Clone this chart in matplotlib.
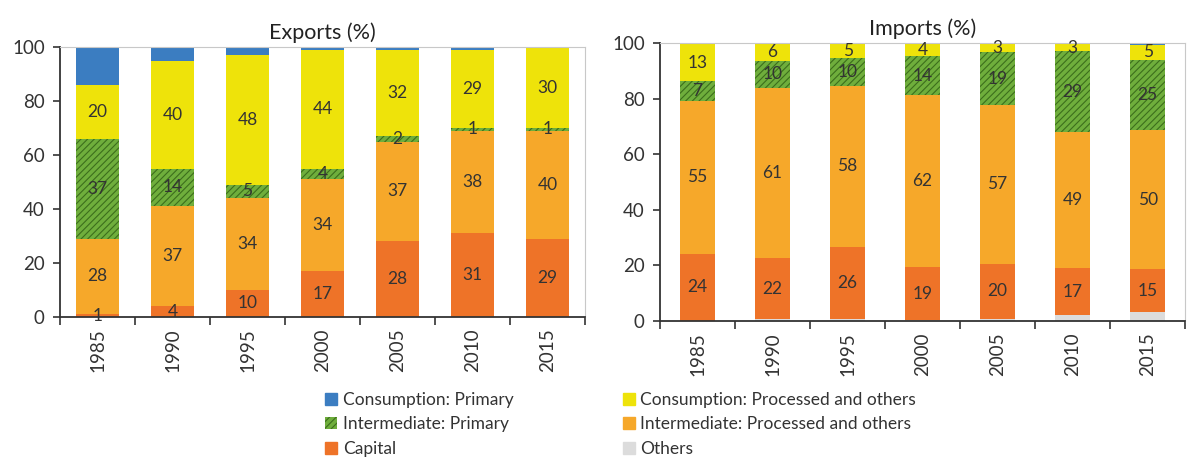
import matplotlib
matplotlib.use("Agg")
import matplotlib.pyplot as plt
from matplotlib.patches import Patch
import numpy as np

plt.rcParams['font.family'] = ['Lato', 'DejaVu Sans']
plt.rcParams['hatch.linewidth'] = 0.8

years = ["1985", "1990", "1995", "2000", "2005", "2010", "2015"]

# exports (%), bottom to top
exp_capital = [1, 4, 10, 17, 28, 31, 29]
exp_int_proc = [28, 37, 34, 34, 37, 38, 40]
exp_int_prim = [37, 14, 5, 4, 2, 1, 1]
exp_cons_proc = [20, 40, 48, 44, 32, 29, 29.6]
exp_cons_prim = [14, 5, 3, 1, 1, 1, 0.4]

# imports (%), bottom to top
imp_others = [0.2, 0.7, 0.6, 0.3, 0.7, 2, 3.2]
imp_capital = [24, 22, 26, 19, 20, 17, 15.4]
imp_int_proc = [55, 61, 58, 62, 57, 49, 50]
imp_int_prim = [7, 10, 10, 14, 19, 29, 25.4]
imp_cons_proc = [13.4, 6, 5, 4.4, 3, 2.7, 5.4]
imp_cons_prim = [0.4, 0.3, 0.4, 0.3, 0.3, 0.3, 0.6]

C_CONS_PRIM = "#3b7dc1"
C_CONS_PROC = "#eee30a"
C_INT_PRIM = "#6fae3c"
C_INT_PRIM_H = "#3c6e1c"
C_INT_PROC = "#f6a82a"
C_CAPITAL = "#ee7328"
C_OTHERS = "#dcdcdc"

styles = {
    "Consumption: Primary": dict(color=C_CONS_PRIM),
    "Consumption: Processed and others": dict(color=C_CONS_PROC),
    "Intermediate: Primary": dict(facecolor=C_INT_PRIM, edgecolor=C_INT_PRIM_H, hatch="/////", linewidth=0),
    "Intermediate: Processed and others": dict(color=C_INT_PROC),
    "Capital": dict(color=C_CAPITAL),
    "Others": dict(color=C_OTHERS),
}


def draw_panel(ax, title, series, width):
    x = np.arange(len(years))
    bottom = np.zeros(len(years))
    for name, vals, labelled in series:
        vals = np.array(vals, dtype=float)
        ax.bar(x, vals, width, bottom=bottom, **styles[name])
        if labelled:
            for xi, b, v in zip(x, bottom, vals):
                ax.text(xi, b + v / 2, str(int(round(v))), ha="center", va="center",
                        fontsize=12.5, color="#333333")
        bottom += vals
    ax.set_xlim(-0.5, len(years) - 0.5)
    ax.set_ylim(0, 100)
    ax.set_yticks([0, 20, 40, 60, 80, 100])
    ax.set_xticks(x)
    ax.set_xticklabels(years, rotation=90)
    ax.set_xticks(np.arange(len(years) + 1) - 0.5, minor=True)
    ax.tick_params(axis="x", which="major", length=0, labelsize=13.5, pad=8, colors="#333333")
    ax.tick_params(axis="x", which="minor", length=6, width=1.2, color="#333333")
    ax.tick_params(axis="y", length=5, width=1.2, labelsize=13.5, colors="#333333", pad=6)
    for s in ["left", "bottom"]:
        ax.spines[s].set_color("#333333")
        ax.spines[s].set_linewidth(1.3)
    for s in ["top", "right"]:
        ax.spines[s].set_color("#c8c8c8")
        ax.spines[s].set_linewidth(0.8)
    ax.set_title(title, fontsize=15.5, color="#222222", pad=6)


fig = plt.figure(figsize=(11.88, 4.58), dpi=100)
ax1 = fig.add_axes([0.0505, 0.308, 0.442, 0.589])
ax2 = fig.add_axes([0.5556, 0.299, 0.442, 0.607])

draw_panel(ax1, "Exports (%)", [
    ("Capital", exp_capital, True),
    ("Intermediate: Processed and others", exp_int_proc, True),
    ("Intermediate: Primary", exp_int_prim, True),
    ("Consumption: Processed and others", exp_cons_proc, True),
    ("Consumption: Primary", exp_cons_prim, False),
], 0.58)

draw_panel(ax2, "Imports (%)", [
    ("Others", imp_others, False),
    ("Capital", imp_capital, True),
    ("Intermediate: Processed and others", imp_int_proc, True),
    ("Intermediate: Primary", imp_int_prim, True),
    ("Consumption: Processed and others", imp_cons_proc, True),
    ("Consumption: Primary", imp_cons_prim, False),
], 0.47)

order = ["Consumption: Primary", "Intermediate: Primary", "Capital",
         "Consumption: Processed and others", "Intermediate: Processed and others", "Others"]
handles = [Patch(label=n, **styles[n]) for n in order]
fig.legend(handles=handles, loc="upper left", bbox_to_anchor=(0.268, 0.16), ncol=2,
           frameon=False, fontsize=12.5, handlelength=0.7, handleheight=0.7,
           handletextpad=0.3, columnspacing=6.3, labelspacing=0.5, borderaxespad=0,
           labelcolor="#333333")

fig.savefig("out.png", dpi=100)
